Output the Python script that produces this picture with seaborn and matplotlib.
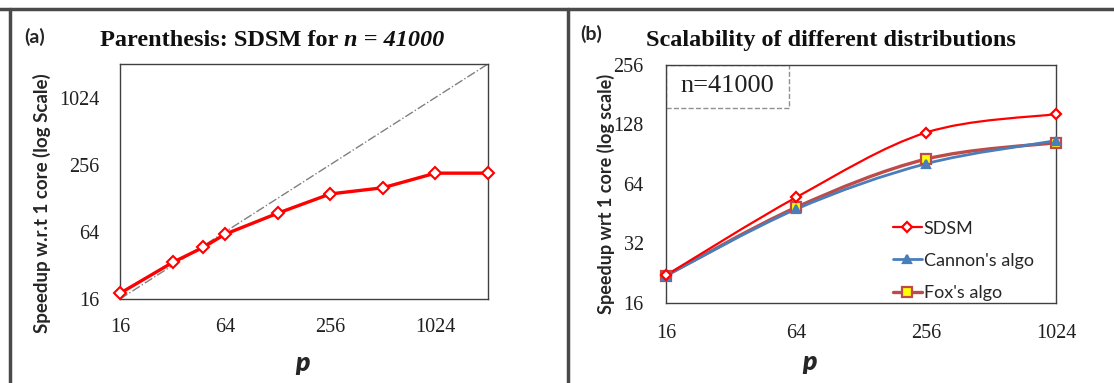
import numpy as np
import matplotlib
matplotlib.use("Agg")
import matplotlib.pyplot as plt
from matplotlib.path import Path
from matplotlib.patches import PathPatch, Rectangle
from matplotlib.lines import Line2D
import seaborn as sns
import pandas as pd

# panel (a): SDSM speedup for parenthesis problem, n = 41000
p_a = [16, 32, 48, 64, 128, 256, 512, 1024, 2048]
speedup_a = [18, 34, 46.5, 61, 94, 140, 159, 215, 215]
ideal_a = [16, 2048]

# panel (b): scalability of different distributions
p_b = [16, 64, 256, 1024]
sdsm_b = [22.1, 54.7, 116.5, 144.5]
cannon_b = [22.0, 47.7, 81.0, 106.0]
fox_b = [22.0, 48.7, 85.5, 103.6]

ticks_a = [16, 64, 256, 1024]
ticks_b_x = [16, 64, 256, 1024]
ticks_b_y = [16, 32, 64, 128, 256]

sns.set_theme(style="white")
plt.rcParams['font.family'] = ['Liberation Serif', 'DejaVu Serif']

SANS = 'Lato'
SERIF = 'Liberation Serif'


def smooth_path(xs, ys):
    # excel-like smooth line: bezier control points in log space
    lx, ly = np.log(xs), np.log(ys)
    n = len(xs)
    verts = [(xs[0], ys[0])]
    codes = [Path.MOVETO]
    for i in range(n - 1):
        i0 = max(i - 1, 0)
        i3 = min(i + 2, n - 1)
        c1 = (lx[i] + (lx[i + 1] - lx[i0]) / 6, ly[i] + (ly[i + 1] - ly[i0]) / 6)
        c2 = (lx[i + 1] - (lx[i3] - lx[i]) / 6, ly[i + 1] - (ly[i3] - ly[i]) / 6)
        verts += [tuple(np.exp(c1)), tuple(np.exp(c2)), (xs[i + 1], ys[i + 1])]
        codes += [Path.CURVE4] * 3
    return Path(verts, codes)


def style_axes(ax):
    for s in ax.spines.values():
        s.set_color('#404040')
        s.set_linewidth(1.0)
    ax.tick_params(axis='both', length=0, labelsize=14.5, colors='#202020')
    for lab in ax.get_xticklabels() + ax.get_yticklabels():
        lab.set_fontfamily(SERIF)


def place_labels(ax, xl, yl):
    ax.xaxis.label.set_va('center')
    ax.yaxis.label.set_va('center')
    ax.yaxis.label.set_rotation_mode('anchor')
    ax.xaxis.set_label_coords(*xl)
    ax.yaxis.set_label_coords(*yl)


fig = plt.figure(figsize=(11.14, 3.83), dpi=100)

# ---------- panel (a)
ax1 = fig.add_axes([0.1077, 0.2193, 0.3303, 0.6137])
ax1.set_xscale('log', base=2)
ax1.set_yscale('log', base=2)
ax1.plot(ideal_a, ideal_a, color='#808080', lw=1.0, ls='-.')
df_a = pd.DataFrame({'p': p_a, 'speedup': speedup_a})
sns.lineplot(data=df_a, x='p', y='speedup', ax=ax1, color='#FF0000', lw=2.4,
             marker='D', markersize=6, markerfacecolor='white',
             markeredgecolor='#FF0000', markeredgewidth=1.5, clip_on=False, zorder=5)
ax1.set_xlim(16, 2048)
ax1.set_ylim(16, 2048)
ax1.set_xticks(ticks_a)
ax1.set_xticklabels([str(t) for t in ticks_a])
ax1.set_yticks(ticks_a)
ax1.set_yticklabels([str(t) for t in ticks_a])
ax1.minorticks_off()
ax1.tick_params(axis='x', pad=14)
ax1.tick_params(axis='y', pad=15)
ax1.set_xlabel('p', fontfamily=SANS, fontweight='heavy', fontstyle='italic', fontsize=19)
ax1.set_ylabel('Speedup w.r.t 1 core (log Scale)', fontfamily=SANS, fontweight='bold',
               fontsize=13.5)
place_labels(ax1, (0.497, -0.272), (-0.212, 0.408))
style_axes(ax1)

# ---------- panel (b)
ax2 = fig.add_axes([0.5978, 0.2089, 0.3501, 0.6214])
ax2.set_xscale('log', base=2)
ax2.set_yscale('log', base=2)
series_b = [
    ('SDSM', sdsm_b, '#FF0000', 1.6, 'D', 'white', '#FF0000', 5.5),
    ("Cannon's algo", cannon_b, '#4A7EBB', 2.0, '^', '#4A7EBB', '#4A7EBB', 6),
    ("Fox's algo", fox_b, '#BE4B48', 2.4, 's', '#FFFF00', '#BE4B48', 7),
]
handles = []
for name, vals, col, lw, mk, mfc, mec, ms in reversed(series_b):
    ax2.add_patch(PathPatch(smooth_path(p_b, vals), fill=False, edgecolor=col,
                            lw=lw, capstyle='round', zorder=3))
    ax2.plot(p_b, vals, ls='none', marker=mk, markersize=ms, markerfacecolor=mfc,
             markeredgecolor=mec, markeredgewidth=1.6, clip_on=False, zorder=4)
for name, vals, col, lw, mk, mfc, mec, ms in series_b:
    handles.append(Line2D([0], [0], color=col, lw=lw, marker=mk, markersize=ms,
                          markerfacecolor=mfc, markeredgecolor=mec,
                          markeredgewidth=1.6, label=name))
ax2.set_xlim(16, 1024)
ax2.set_ylim(16, 256)
ax2.set_xticks(ticks_b_x)
ax2.set_xticklabels([str(t) for t in ticks_b_x])
ax2.set_yticks(ticks_b_y)
ax2.set_yticklabels([str(t) for t in ticks_b_y])
ax2.minorticks_off()
ax2.tick_params(axis='x', pad=15)
ax2.tick_params(axis='y', pad=16)
ax2.set_xlabel('p', fontfamily=SANS, fontweight='heavy', fontstyle='italic', fontsize=19)
ax2.set_ylabel('Speedup wrt 1 core (log scale)', fontfamily=SANS, fontweight='bold',
               fontsize=13)
place_labels(ax2, (0.369, -0.248), (-0.154, 0.46))
leg = ax2.legend(handles=handles, loc='lower right', bbox_to_anchor=(0.975, -0.045),
                 frameon=False, prop={'family': SANS, 'size': 13},
                 handlelength=1.6, handletextpad=0.1, labelspacing=0.9,
                 borderaxespad=0.3)
# n=41000 dashed box in upper left
ax2.add_patch(Rectangle((0, 0.82), 0.315, 0.18, transform=ax2.transAxes, fill=False,
                        ls='--', lw=1.0, edgecolor='#909090', zorder=2))
ax2.text(0.157, 0.91, 'n=41000', transform=ax2.transAxes, ha='center', va='center',
         fontfamily=SERIF, fontsize=19, color='#202020')
style_axes(ax2)

# ---------- titles and panel labels
t1 = fig.text(0.09, 0.88, 'Parenthesis: SDSM for ', fontfamily=SERIF, fontweight='bold',
              fontsize=17.5, va='baseline', ha='left', color='#101010')
fig.canvas.draw()
ax1.annotate('n = 41000', xy=(1, 0), xycoords=t1, xytext=(0, 0), textcoords='offset points',
             fontfamily=SERIF, fontweight='bold', fontstyle='italic', fontsize=17.5,
             va='bottom', ha='left', color='#101010', annotation_clip=False)
fig.text(0.58, 0.88, 'Scalability of different distributions', fontfamily=SERIF,
         fontweight='bold', fontsize=17.5, va='baseline', ha='left', color='#101010')
fig.text(0.022, 0.888, '(a)', fontfamily=SANS, fontweight='bold', fontsize=14, va='baseline')
fig.text(0.521, 0.895, '(b)', fontfamily=SANS, fontweight='bold', fontsize=14, va='baseline')

# panel frames
frame = dict(color='#4A4A4A', lw=2.5, transform=fig.transFigure, clip_on=False)
fig.add_artist(Line2D([0, 1], [1 - 8.5 / 383] * 2, **frame))
fig.add_artist(Line2D([9.5 / 1114] * 2, [0, 1 - 8.5 / 383], **frame))
fig.add_artist(Line2D([568 / 1114] * 2, [0, 1 - 8.5 / 383], **frame))

fig.savefig('out.png', dpi=100)
